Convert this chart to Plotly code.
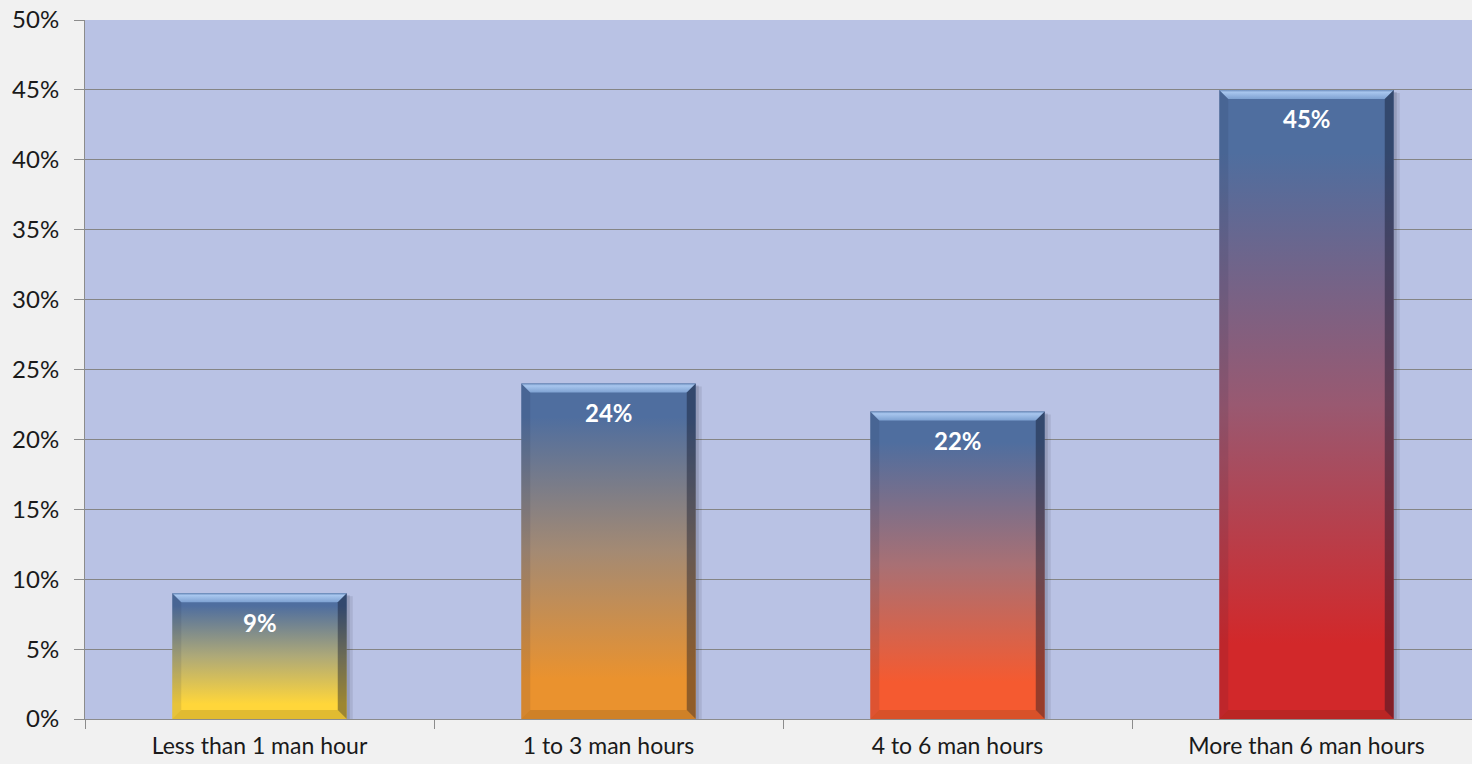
import plotly.graph_objects as go

# Survey result: time spent per incident
categories = ["Less than 1 man hour", "1 to 3 man hours", "4 to 6 man hours", "More than 6 man hours"]
shares = [0.09, 0.24, 0.22, 0.45]
bottom_colors = ["#FFD63A", "#EA922E", "#F55A30", "#D2282A"]
TOP_BLUE = "#4F6E9F"

FONT = "Lato"
BAR_HALF = 0.25                 # half of bar width, in category units
PX_X = 1 / 349                  # one pixel in x data units
PX_Y = 0.5 / 699                # one pixel in y data units
BEVEL = 9                       # bevel depth, pixels
SHADOW = 6                      # drop-shadow width, pixels
X_RIGHT = -0.5 + 1387 / 349     # plot area ends slightly before the last category edge


def hex_rgb(h):
    h = h.lstrip("#")
    return [int(h[k:k + 2], 16) for k in (0, 2, 4)]


def mid_tone(a, b, lift=0.08):
    ra, rb = hex_rgb(a), hex_rgb(b)
    m = [(p + q) / 2 for p, q in zip(ra, rb)]
    m = [round(v * (1 - lift) + 255 * lift) for v in m]
    return "rgb({},{},{})".format(*m)


fig = go.Figure()


def poly(xs, ys, **kw):
    fig.add_trace(go.Scatter(
        x=xs + [xs[0]], y=ys + [ys[0]], mode="lines", fill="toself",
        line=dict(width=0), hoverinfo="skip", showlegend=False, **kw))


for i, (v, c) in enumerate(zip(shares, bottom_colors)):
    x0, x1 = i - BAR_HALF, i + BAR_HALF
    bx, by = BEVEL * PX_X, BEVEL * PX_Y
    sx = SHADOW * PX_X

    # soft shadow on the right
    poly([x1, x1 + sx, x1 + sx, x1], [0, 0, v - 3 * PX_Y, v - 3 * PX_Y],
         fillcolor="rgba(30,30,50,0.10)")
    poly([x1, x1 + sx / 2, x1 + sx / 2, x1], [0, 0, v - 2 * PX_Y, v - 2 * PX_Y],
         fillcolor="rgba(30,30,50,0.14)")

    # bar body with vertical gradient
    poly([x0, x1, x1, x0], [0, 0, v, v],
         fillgradient=dict(type="vertical",
                           colorscale=[[0, c], [0.12, c], [0.5, mid_tone(c, TOP_BLUE)],
                                       [0.9, TOP_BLUE], [1, TOP_BLUE]]))

    # bevel faces
    poly([x0, x1, x1 - bx, x0 + bx], [v, v, v - by, v - by],
         fillgradient=dict(type="vertical",
                           colorscale=[[0, "#7FA2D2"], [0.75, "#A8C6EE"], [1, "#6B8CBC"]]))
    poly([x1, x1, x1 - bx, x1 - bx], [v, 0, by, v - by],
         fillcolor="rgba(10,15,35,0.40)")
    poly([x0, x0, x0 + bx, x0 + bx], [v, 0, by, v - by],
         fillcolor="rgba(20,30,60,0.10)")
    poly([x0, x1, x1 - bx, x0 + bx], [0, 0, by, by],
         fillcolor="rgba(40,30,0,0.14)")

    fig.add_annotation(x=i, y=v, yshift=-29, text=f"<b>{round(v * 100)}%</b>",
                       showarrow=False, yanchor="middle",
                       font=dict(family=FONT, size=24, color="white"))

AXIS_GREY = "#8C8C8C"

fig.update_xaxes(
    range=[-0.5, X_RIGHT], tickmode="array", tickvals=list(range(len(categories))),
    ticktext=categories, ticks="", showgrid=False, zeroline=False,
    showline=True, linecolor=AXIS_GREY, linewidth=1,
    minor=dict(tickmode="array", tickvals=[-0.5, 0.5, 1.5, 2.5],
               ticks="outside", ticklen=9, tickcolor=AXIS_GREY, showgrid=False),
    tickfont=dict(family=FONT, size=23, color="#1A1A1A"),
    ticklabelstandoff=6, automargin=False)

fig.update_yaxes(
    range=[0, 0.5], tickmode="linear", tick0=0, dtick=0.05, tickformat=".0%",
    showgrid=True, gridcolor="#858585", gridwidth=1, zeroline=False,
    showline=True, linecolor=AXIS_GREY, linewidth=1,
    ticks="outside", ticklen=10, tickcolor=AXIS_GREY,
    tickfont=dict(family=FONT, size=24, color="#1A1A1A"),
    ticklabelstandoff=10, automargin=False)

fig.update_layout(
    width=1472, height=764,
    margin=dict(l=85, r=0, t=20, b=45),
    paper_bgcolor="#F1F1F1", plot_bgcolor="#B9C2E4",
    showlegend=False, font=dict(family=FONT),
)

fig.write_html("out.html")
